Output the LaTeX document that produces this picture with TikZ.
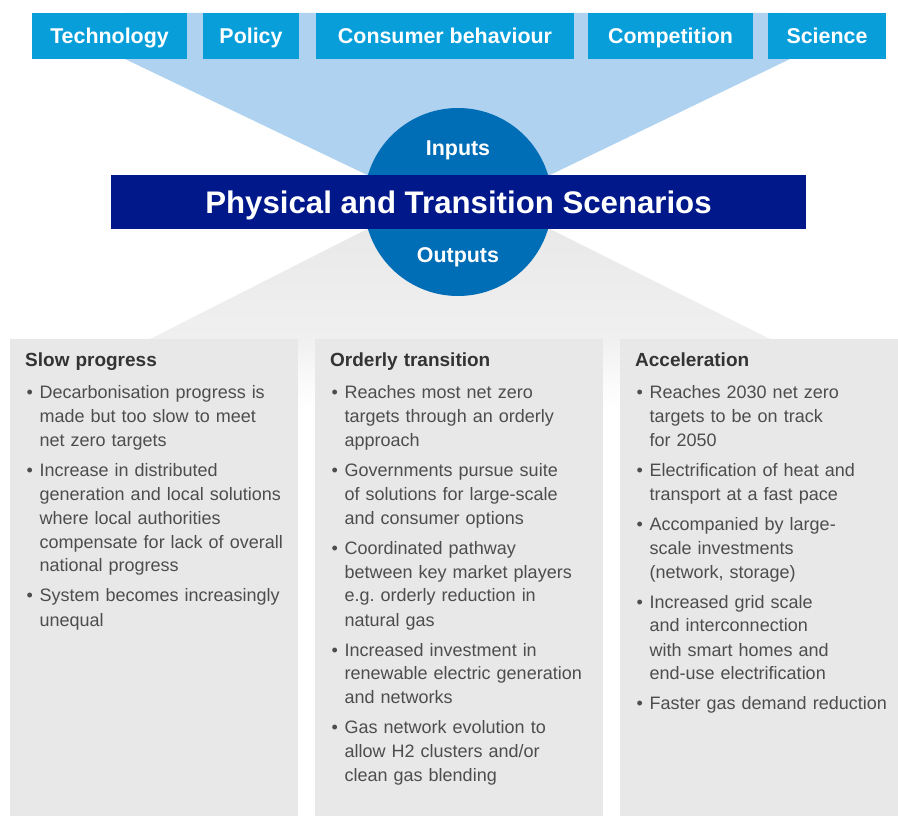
\documentclass[tikz,border=0pt]{standalone}
\usepackage{fontspec}
\setmainfont{Liberation Sans}
\usepackage{tikz}
\usetikzlibrary{positioning}

\definecolor{topblue}{RGB}{8,158,218}
\definecolor{fanblue}{RGB}{174,210,240}
\definecolor{ringblue}{RGB}{0,110,182}
\definecolor{navy}{RGB}{0,24,138}
\definecolor{panelgrey}{RGB}{232,232,232}
\definecolor{titlegrey}{RGB}{51,51,51}
\definecolor{bodygrey}{RGB}{77,77,77}
\definecolor{fangreyA}{RGB}{230,230,230}
\definecolor{fangreyB}{RGB}{240,240,240}
\definecolor{fangreyC}{RGB}{250,250,250}

\pgfdeclareverticalshading{outfan}{100bp}{color(0bp)=(white); color(25bp)=(white);
  color(31.6bp)=(fangreyC); color(40.6bp)=(fangreyB); color(75bp)=(fangreyA); color(100bp)=(fangreyA)}

\newcommand{\panelhead}[1]{{\color{titlegrey}\bfseries\fontsize{19}{24}\selectfont #1}}
\newcommand{\itemdot}{\makebox[14.5pt][l]{\hspace{1.5pt}\textbullet}}
\newcommand{\itemcont}{\hspace*{14.5pt}}

\begin{document}
\begin{tikzpicture}[x=1pt, y=-1pt,
    topic/.style={rectangle, fill=topblue, text=white, inner sep=0pt, minimum height=46pt,
      text height=15.3pt, text depth=0pt, font=\bfseries\fontsize{21.4}{24}\selectfont},
    hublabel/.style={text=white, inner sep=0pt, text height=15.3pt, text depth=0pt,
      font=\bfseries\fontsize{21.4}{24}\selectfont},
    panel/.style={rectangle, fill=panelgrey, inner sep=0pt, minimum height=477pt},
    body/.style={anchor=base west, inner sep=0pt, align=left, text=bodygrey,
      font=\fontsize{18}{24}\selectfont}
]
\useasboundingbox (0,0) rectangle (898,816);

% Inputs fan
\fill[fanblue] (125,13) -- (790,13) -- (790,59) -- (459,219) -- (125,59) -- cycle;

% Outputs fan
\shade[shading=outfan] (458,183) -- (10,410) -- (898,410) -- (898,403) -- cycle;

% Top boxes
\node[topic, minimum width=155pt] (tech) at (109.5,36) {Technology};
\node[topic, minimum width=96pt] (policy) at (251,36) {Policy};
\node[topic, minimum width=258pt] (consumer) at (445,36) {Consumer behaviour};
\node[topic, minimum width=165pt] (compet) at (670.5,36) {Competition};
\node[topic, minimum width=118pt] (science) at (827,36) {Science};

% Scenario panels
\node[panel, minimum width=288pt] (slow) at (154,577.5) {};
\node[panel, minimum width=288pt] (orderly) at (459,577.5) {};
\node[panel, minimum width=278pt] (accel) at (759,577.5) {};

% Hub circle and banner
\node[circle, fill=ringblue, minimum size=188pt, inner sep=0pt] (hub) at (458,202) {};
\node[rectangle, fill=navy, text=white, inner sep=0pt, minimum width=695pt, minimum height=54pt,
  text height=22.3pt, text depth=0pt, font=\bfseries\fontsize{31.2}{36}\selectfont]
  (scen) at (458.5,202) {Physical and Transition Scenarios};
\node[hublabel] (inputs) at (458,147.5) {Inputs};
\node[hublabel] (outputs) at (458,255) {Outputs};

% Panel texts
\node[body, text width=270pt] (slowtxt) at (25,366) {\panelhead{Slow progress}\\[8pt]
  \itemdot Decarbonisation progress is\\
  \itemcont made but too slow to meet\\
  \itemcont net zero targets\\[6pt]
  \itemdot Increase in distributed\\
  \itemcont generation and local solutions\\
  \itemcont where local authorities\\
  \itemcont compensate for lack of overall\\
  \itemcont national progress\\[6pt]
  \itemdot System becomes increasingly\\
  \itemcont unequal};

\node[body, text width=270pt] (orderlytxt) at (330,366) {\panelhead{Orderly transition}\\[8pt]
  \itemdot Reaches most net zero\\
  \itemcont targets through an orderly\\
  \itemcont approach\\[6pt]
  \itemdot Governments pursue suite\\
  \itemcont of solutions for large-scale\\
  \itemcont and consumer options\\[6pt]
  \itemdot Coordinated pathway\\
  \itemcont between key market players\\
  \itemcont e.g.\ orderly reduction in\\
  \itemcont natural gas\\[6pt]
  \itemdot Increased investment in\\
  \itemcont renewable electric generation\\
  \itemcont and networks\\[6pt]
  \itemdot Gas network evolution to\\
  \itemcont allow H2 clusters and/or\\
  \itemcont clean gas blending};

\node[body, text width=262pt] (acceltxt) at (635,366) {\panelhead{Acceleration}\\[8pt]
  \itemdot Reaches 2030 net zero\\
  \itemcont targets to be on track\\
  \itemcont for 2050\\[6pt]
  \itemdot Electrification of heat and\\
  \itemcont transport at a fast pace\\[6pt]
  \itemdot Accompanied by large-\\
  \itemcont scale investments\\
  \itemcont (network, storage)\\[6pt]
  \itemdot Increased grid scale\\
  \itemcont and interconnection\\
  \itemcont with smart homes and\\
  \itemcont end-use electrification\\[6pt]
  \itemdot Faster gas demand reduction};

\end{tikzpicture}
\end{document}
